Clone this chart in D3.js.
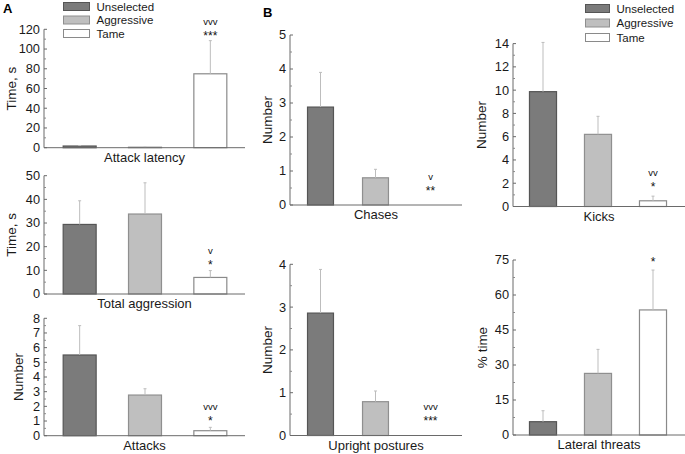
<!DOCTYPE html>
<html>
<head>
<meta charset="utf-8">
<script src="https://cdn.jsdelivr.net/npm/d3@7.9.0/dist/d3.min.js"></script>
<style>
body { margin: 0; background: #fff; }
svg { display: block; font-family: "Liberation Sans", Arial, sans-serif; }
</style>
</head>
<body>
<svg width="685" height="454"></svg>
<script>
// groups and data (mean and SE)
const groups = ['Unselected', 'Aggressive', 'Tame'];

const latencyMean = [1.7, 0.5, 74.9];
const latencyErr = [0.5, 0.1, 33.6];
const aggressionMean = [29.4, 33.8, 7.0];
const aggressionErr = [10.0, 13.2, 2.9];
const attacksMean = [5.5, 2.77, 0.34];
const attacksErr = [2.0, 0.43, 0.23];
const chasesMean = [2.88, 0.8, 0];
const chasesErr = [1.02, 0.25, 0];
const uprightMean = [2.86, 0.79, 0];
const uprightErr = [1.02, 0.25, 0];
const kicksMean = [9.87, 6.2, 0.49];
const kicksErr = [4.23, 1.55, 0.4];
const lateralMean = [5.7, 26.4, 53.6];
const lateralErr = [4.7, 10.3, 17.1];

// significance marks over the Tame bar: [vs aggressive, vs unselected]
const latencyMarks = ['vvv', '***'];
const aggressionMarks = ['v', '*'];
const attacksMarks = ['vvv', '*'];
const chasesMarks = ['v', '**'];
const uprightMarks = ['vvv', '***'];
const kicksMarks = ['vv', '*'];
const lateralMarks = ['', '*'];

const fills = ['#7b7b7b', '#bfbfbf', '#ffffff'];
const strokes = ['#555555', '#8f8f8f', '#8a8a8a'];

const panels = [
    { title: 'Attack latency', ylab: 'Time, s', mean: latencyMean, err: latencyErr, marks: latencyMarks,
      max: 120, step: 20, ax: [44, 245], band: [47, 243], pad: 0.48, y: [147.7, 29.3], labX: 16, gap: 7 },
    { title: 'Total aggression', ylab: 'Time, s', mean: aggressionMean, err: aggressionErr, marks: aggressionMarks,
      max: 50, step: 10, ax: [44, 245], band: [47, 243], pad: 0.48, y: [294, 175.7], labX: 16, gap: 8 },
    { title: 'Attacks', ylab: 'Number', mean: attacksMean, err: attacksErr, marks: attacksMarks,
      max: 8, step: 1, ax: [44, 245], band: [47, 243], pad: 0.48, y: [435.7, 318.3], labX: 23, gap: 9 },
    { title: 'Chases', ylab: 'Number', mean: chasesMean, err: chasesErr, marks: chasesMarks,
      max: 5, step: 1, ax: [290, 462], band: [293, 458], pad: 0.51, y: [205, 35], labX: 272, gap: 17 },
    { title: 'Upright postures', ylab: 'Number', mean: uprightMean, err: uprightErr, marks: uprightMarks,
      max: 4, step: 1, ax: [290, 462], band: [293, 458], pad: 0.51, y: [435.5, 264.3], labX: 272, gap: 17.5 },
    { title: 'Kicks', ylab: 'Number', mean: kicksMean, err: kicksErr, marks: kicksMarks,
      max: 14, step: 2, ax: [513, 685], band: [515.5, 680.5], pad: 0.49, y: [206.5, 43.6], labX: 486, gap: 12 },
    { title: 'Lateral threats', ylab: '% time', mean: lateralMean, err: lateralErr, marks: lateralMarks,
      max: 75, step: 15, ax: [513, 685], band: [515.5, 680.5], pad: 0.49, y: [435, 260], labX: 487, gap: 11 }
];

const svg = d3.select('svg');

panels.forEach((p) => {
    let g = svg.append('g');
    let x = d3.scaleBand().domain(groups).range(p.band).paddingInner(p.pad).paddingOuter(p.pad / 2);
    let y = d3.scaleLinear().domain([0, p.max]).range(p.y);

    // y axis: inward major ticks + minor ticks halfway
    let major = d3.range(0, p.max + p.step / 2, p.step);
    let minor = d3.range(p.step / 2, p.max, p.step);
    g.append('line')
        .attr('x1', p.ax[0]).attr('x2', p.ax[0])
        .attr('y1', y(0)).attr('y2', y(p.max))
        .attr('stroke', '#6a6a6a').attr('stroke-width', 1);
    g.selectAll('.maj').data(major).join('line')
        .attr('x1', p.ax[0]).attr('x2', p.ax[0] + 3)
        .attr('y1', (d) => y(d)).attr('y2', (d) => y(d))
        .attr('stroke', '#6a6a6a');
    g.selectAll('.min').data(minor).join('line')
        .attr('x1', p.ax[0]).attr('x2', p.ax[0] + 2)
        .attr('y1', (d) => y(d)).attr('y2', (d) => y(d))
        .attr('stroke', '#8a8a8a');
    g.selectAll('.tl').data(major).join('text')
        .attr('x', p.ax[0] - 4).attr('y', (d) => y(d) + 4.4)
        .attr('text-anchor', 'end').attr('font-size', 12.8).attr('fill', '#1a1a1a')
        .text((d) => d);

    // bars (zero-height bars are not drawn)
    p.mean.forEach((m, i) => {
        if (m <= 0) return;
        g.append('rect')
            .attr('x', x(groups[i]) + 0.5)
            .attr('y', y(m))
            .attr('width', x.bandwidth() - 1)
            .attr('height', y(0) - y(m))
            .attr('fill', fills[i])
            .attr('stroke', strokes[i])
            .attr('stroke-width', 1.2);
    });

    // error bars (upper only)
    p.mean.forEach((m, i) => {
        if (p.err[i] <= 0) return;
        let cx = x(groups[i]) + x.bandwidth() / 2;
        g.append('line')
            .attr('x1', cx).attr('x2', cx)
            .attr('y1', y(m)).attr('y2', y(m + p.err[i]))
            .attr('stroke', '#bdbdbd').attr('stroke-width', 1);
        g.append('line')
            .attr('x1', cx - 1.5).attr('x2', cx + 1.5)
            .attr('y1', y(m + p.err[i])).attr('y2', y(m + p.err[i]))
            .attr('stroke', '#bdbdbd').attr('stroke-width', 1);
    });

    // x axis line
    g.append('line')
        .attr('x1', p.ax[0]).attr('x2', p.ax[1])
        .attr('y1', y(0)).attr('y2', y(0))
        .attr('stroke', '#6a6a6a').attr('stroke-width', 1);

    // significance marks above Tame
    let tx = x('Tame') + x.bandwidth() / 2;
    let starC = y(p.mean[2] + p.err[2]) - p.gap;
    g.append('text')
        .attr('x', tx).attr('y', starC + 6.8)
        .attr('text-anchor', 'middle').attr('font-size', 12).attr('fill', '#111')
        .text(p.marks[1]);
    g.append('text')
        .attr('x', tx).attr('y', starC - 11 + 2.5)
        .attr('text-anchor', 'middle').attr('font-size', 9.5).attr('fill', '#111')
        .text(p.marks[0]);

    // titles
    g.append('text')
        .attr('x', (p.ax[0] + p.ax[1]) / 2).attr('y', y(0) + 14)
        .attr('text-anchor', 'middle').attr('font-size', 13).attr('fill', '#1a1a1a')
        .text(p.title);
    g.append('text')
        .attr('transform', `translate(${p.labX},${(p.y[0] + p.y[1]) / 2}) rotate(-90)`)
        .attr('text-anchor', 'middle').attr('font-size', 13.5).attr('fill', '#1a1a1a')
        .text(p.ylab);
});

// legends
function legend(x0, y0, w, h, dy) {
    groups.forEach((name, i) => {
        svg.append('rect')
            .attr('x', x0).attr('y', y0 + i * dy)
            .attr('width', w).attr('height', h)
            .attr('fill', fills[i]).attr('stroke', strokes[i]).attr('stroke-width', 1);
        svg.append('text')
            .attr('x', x0 + w + 7).attr('y', y0 + i * dy + h / 2 + 4)
            .attr('font-size', 11.5).attr('fill', '#1a1a1a')
            .text(name);
    });
}
legend(63.5, 2.5, 26, 8, 13.5);
legend(585.5, 4.5, 24, 8, 14.5);

svg.append('text').attr('x', 3).attr('y', 13).attr('font-size', 13).attr('font-weight', 'bold').text('A');
svg.append('text').attr('x', 263).attr('y', 17).attr('font-size', 13).attr('font-weight', 'bold').text('B');
</script>
</body>
</html>
